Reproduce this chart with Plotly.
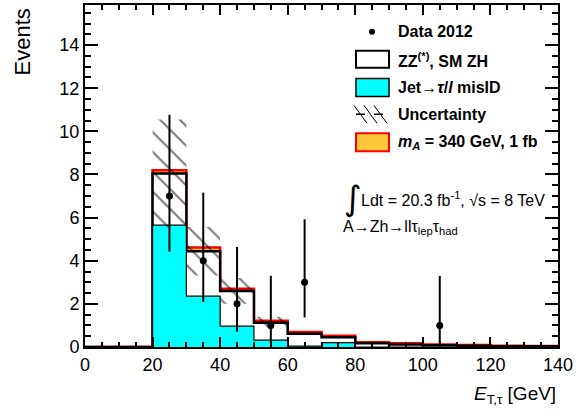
import plotly.graph_objects as go

# ---------------- data ----------------
bin_edges = [0, 10, 20, 30, 40, 50, 60, 70, 80, 90, 100, 110, 120, 130, 140]
jet_misid = [0, 0, 5.65, 2.36, 0.97, 0.32, 0.04, 0.20, 0.0, 0.0, 0.0, 0.0, 0.0, 0.0]
zz_smzh = [0, 0, 2.40, 2.08, 1.63, 0.80, 0.58, 0.25, 0.17, 0.12, 0.08, 0.06, 0.04, 0.03]
signal = [0, 0, 0.15, 0.18, 0.10, 0.10, 0.08, 0.07, 0.05, 0.05, 0.04, 0.03, 0.02, 0.02]
uncert = [0, 0, 2.50, 1.12, 0.60, 0.28, 0.06, 0.05, 0.02, 0.02, 0.01, 0.01, 0.01, 0.01]

data_x = [25, 35, 45, 55, 65, 105]
data_y = [7, 4, 2, 1, 3, 1]
data_err_up = [3.77, 3.16, 2.64, 2.30, 2.92, 2.30]
data_err_dn = [2.58, 1.91, 1.29, 0.83, 1.63, 0.83]

x_ticks = [0, 20, 40, 60, 80, 100, 120, 140]
y_ticks = [0, 2, 4, 6, 8, 10, 12, 14]

# ---------------- derived ----------------
bkg_total = [j + z for j, z in zip(jet_misid, zz_smzh)]
all_total = [b + s for b, s in zip(bkg_total, signal)]


def step(vals):
    return list(vals) + [vals[-1]]


FONT = "Liberation Sans, Arial, sans-serif"
W, H = 586, 417
ML, MR, MT, MB = 85, 28, 3, 70
PW, PH = W - ML - MR, H - MT - MB


def px(x):
    return (x - ML) / PW


def py(y):
    return (MT + PH - y) / PH


fig = go.Figure()

# signal on top of stack
fig.add_trace(go.Scatter(x=bin_edges, y=step(all_total), mode="lines", line_shape="hv",
                         fill="tozeroy", fillcolor="#FFC83C",
                         line=dict(color="#FF0000", width=2.5), showlegend=False,
                         hoverinfo="skip"))
# ZZ + SM ZH (total background outline)
fig.add_trace(go.Scatter(x=bin_edges, y=step(bkg_total), mode="lines", line_shape="hv",
                         fill="tozeroy", fillcolor="white",
                         line=dict(color="black", width=2.5), showlegend=False,
                         hoverinfo="skip"))
# jet misID
fig.add_trace(go.Scatter(x=bin_edges, y=step(jet_misid), mode="lines", line_shape="hv",
                         fill="tozeroy", fillcolor="#00FFFF",
                         line=dict(color="black", width=1.2), showlegend=False,
                         hoverinfo="skip"))

# uncertainty hatch polygons
ux, uy = [], []
for i in range(len(bkg_total)):
    if uncert[i] <= 0:
        continue
    lo = max(bkg_total[i] - uncert[i], 0)
    hi = bkg_total[i] + uncert[i]
    x0, x1 = bin_edges[i], bin_edges[i + 1]
    ux += [x0, x1, x1, x0, x0, None]
    uy += [lo, lo, hi, hi, lo, None]
fig.add_trace(go.Scatter(x=ux, y=uy, mode="lines", fill="toself",
                         fillcolor="rgba(0,0,0,0)",
                         fillpattern=dict(shape="\\", fgcolor="black", bgcolor="rgba(0,0,0,0)",
                                          size=14, solidity=0.16),
                         line=dict(width=0, color="rgba(0,0,0,0)"), showlegend=False,
                         hoverinfo="skip"))

# data
fig.add_trace(go.Scatter(x=data_x, y=data_y, mode="markers",
                         marker=dict(color="black", size=7),
                         error_y=dict(type="data", symmetric=False, array=data_err_up,
                                      arrayminus=data_err_dn, color="black",
                                      thickness=2, width=0),
                         showlegend=False))

# ---------------- legend (manual) ----------------
shapes = []
annotations = []
legend_text_x = 396
box_x0, box_x1 = 356, 389


def leg_text(y, text):
    annotations.append(dict(x=px(legend_text_x), y=py(y), xref="paper", yref="paper",
                            text=text, showarrow=False, xanchor="left", yanchor="middle",
                            font=dict(family=FONT, size=16, color="black")))


# Data marker
shapes.append(dict(type="circle", xref="paper", yref="paper",
                   x0=px(369), x1=px(375), y0=py(27), y1=py(33),
                   fillcolor="black", line=dict(color="black", width=0)))
leg_text(30, "<b>Data 2012</b>")
# ZZ box
shapes.append(dict(type="rect", xref="paper", yref="paper",
                   x0=px(box_x0), x1=px(box_x1), y0=py(49), y1=py(66),
                   fillcolor="white", line=dict(color="black", width=2)))
leg_text(58, "<b>ZZ<sup>(*)</sup>, SM ZH</b>")
# Jet box
shapes.append(dict(type="rect", xref="paper", yref="paper",
                   x0=px(box_x0), x1=px(box_x1), y0=py(77), y1=py(95),
                   fillcolor="#00FFFF", line=dict(color="black", width=1.5)))
leg_text(86, "<b>Jet→<i>τ</i>/<i>l</i> misID</b>")
# Uncertainty symbol: hatch lines + dashed line
for x0 in [354, 364, 374]:
    shapes.append(dict(type="line", xref="paper", yref="paper",
                       x0=px(x0), x1=px(x0 + 13), y0=py(104), y1=py(122),
                       line=dict(color="black", width=1)))
shapes.append(dict(type="line", xref="paper", yref="paper",
                   x0=px(box_x0), x1=px(box_x1), y0=py(113), y1=py(113),
                   line=dict(color="black", width=1.5, dash="dash")))
leg_text(113, "<b>Uncertainty</b>")
# Signal box
shapes.append(dict(type="rect", xref="paper", yref="paper",
                   x0=px(box_x0), x1=px(box_x1), y0=py(132), y1=py(150),
                   fillcolor="#FFC83C", line=dict(color="#FF0000", width=2)))
leg_text(141, "<b><i>m</i><sub><i>A</i></sub> = 340 GeV, 1 fb</b>")

# luminosity text
annotations.append(dict(x=px(353), y=py(197), xref="paper", yref="paper", text="∫",
                        showarrow=False, xanchor="center", yanchor="middle",
                        font=dict(family="DejaVu Sans", size=34, color="black")))
annotations.append(dict(x=px(359), y=py(198), xref="paper", yref="paper",
                        text="Ldt = 20.3 fb<sup>-1</sup>, √s = 8 TeV",
                        showarrow=False, xanchor="left", yanchor="middle",
                        font=dict(family=FONT, size=16, color="black")))
annotations.append(dict(x=px(341), y=py(227), xref="paper", yref="paper",
                        text="A→Zh→llτ<sub>lep</sub>τ<sub>had</sub>",
                        showarrow=False, xanchor="left", yanchor="middle",
                        font=dict(family=FONT, size=16, color="black")))

# axis titles
annotations.append(dict(x=px(22), y=py(4), xref="paper", yref="paper", text="Events",
                        textangle=-90, showarrow=False, xanchor="center", yanchor="top",
                        font=dict(family=FONT, size=22, color="black")))
annotations.append(dict(x=px(558), y=py(395), xref="paper", yref="paper",
                        text="<i>E</i><sub>T,τ</sub> [GeV]",
                        showarrow=False, xanchor="right", yanchor="middle",
                        font=dict(family=FONT, size=19, color="black")))

fig.update_layout(
    width=W, height=H,
    margin=dict(l=ML, r=MR, t=MT, b=MB),
    paper_bgcolor="white", plot_bgcolor="white",
    shapes=shapes, annotations=annotations,
    font=dict(family=FONT, size=18, color="black"),
    xaxis=dict(range=[0, 140], tickvals=x_ticks, ticks="inside", ticklen=10, tickwidth=1.5,
               tickcolor="black", showline=True, linewidth=2, linecolor="black",
               mirror="ticks", showgrid=False, zeroline=False,
               tickfont=dict(family=FONT, size=18, color="black"),
               minor=dict(ticks="inside", dtick=5, ticklen=5, tickwidth=1.5,
                          tickcolor="black", showgrid=False)),
    yaxis=dict(range=[0, 15.86], tickvals=y_ticks, ticks="inside", ticklen=13, tickwidth=1.5,
               tickcolor="black", showline=True, linewidth=2, linecolor="black",
               mirror="ticks", showgrid=False, zeroline=False,
               tickfont=dict(family=FONT, size=18, color="black"),
               minor=dict(ticks="inside", dtick=0.5, ticklen=6, tickwidth=1.5,
                          tickcolor="black", showgrid=False)),
)

fig.write_html("out.html")
